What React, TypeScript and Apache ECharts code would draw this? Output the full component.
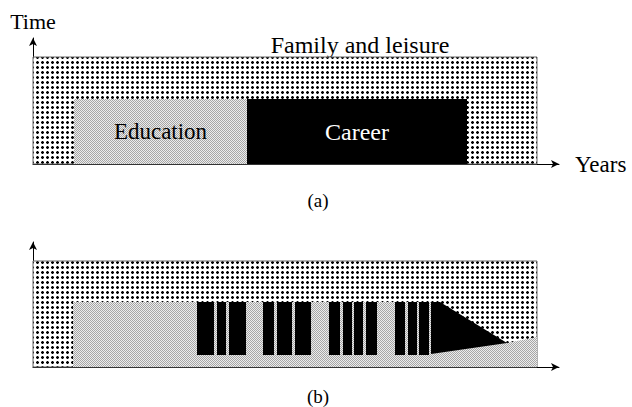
import React, { useEffect, useRef } from 'react';
import * as echarts from 'echarts';

const FONT = 'Liberation Serif';

// Panel (a): blocks as [xStart, xEnd, yBottom, yTop] (axis units)
const aFamily = [[0, 504, 0, 107]];
const aStageNames = ['Education', 'Career'];
const aStages = [
  [41, 214, 0, 65],
  [214, 434, 0, 65],
];

// Panel (b)
const bFamily = [[0, 504, 0, 106]];
const bEducation = [
  [40, 65], [399, 65], [474, 24], [504, 30], [504, 0], [40, 0],
];
const bCareerBars = [
  [164, 181, 12, 65], [184, 193, 12, 65], [196, 213, 12, 65],
  [230, 241, 12, 65], [244, 259, 12, 65], [262, 278, 12, 65],
  [296, 307, 12, 65], [310, 319, 12, 65], [321, 330, 12, 65], [333, 344, 12, 65],
  [362, 372, 12, 65], [375, 384, 12, 65], [386, 396, 12, 65],
];
const bCareerTaper = [
  [398, 65], [407, 65], [474, 24], [398, 13],
];

const panelLabels = ['(a)', '(b)'];

function makePattern(w: number, h: number, draw: (ctx: CanvasRenderingContext2D) => void) {
  const c = document.createElement('canvas');
  c.width = w;
  c.height = h;
  const ctx = c.getContext('2d')!;
  draw(ctx);
  return { image: c.toDataURL(), repeat: 'repeat', imageWidth: w, imageHeight: h } as any;
}

export default function App() {
  const ref = useRef<HTMLDivElement>(null);

  useEffect(() => {
    if (!ref.current) return;
    const chart = echarts.init(ref.current, null as any, { renderer: 'svg' });

    const dotted = makePattern(5, 5, (ctx) => {
      ctx.fillStyle = '#ffffff';
      ctx.fillRect(0, 0, 5, 5);
      ctx.fillStyle = '#9a9a9a';
      ctx.fillRect(1, 1, 1, 1);
      ctx.fillRect(3, 1, 1, 1);
      ctx.fillRect(1, 3, 1, 1);
      ctx.fillRect(3, 3, 1, 1);
      ctx.fillStyle = '#000000';
      ctx.fillRect(2, 1, 1, 3);
      ctx.fillRect(1, 2, 3, 1);
    });
    const stipple = makePattern(2, 2, (ctx) => {
      ctx.fillStyle = '#ececec';
      ctx.fillRect(0, 0, 2, 2);
      ctx.fillStyle = '#a6a6a6';
      ctx.fillRect(0, 0, 1, 1);
      ctx.fillRect(1, 1, 1, 1);
    });

    const axisLine = {
      show: true,
      onZero: false,
      symbol: ['none', 'arrow'],
      symbolSize: [6, 8],
      lineStyle: { color: '#000', width: 1 },
    };
    const baseAxis = {
      type: 'value' as const,
      axisLine,
      axisTick: { show: false },
      axisLabel: { show: false },
      splitLine: { show: false },
    };

    const labelSizes = [23, 24];

    const rectRender = (fill: any, stroke?: string, labels?: string[], labelColors?: string[]) =>
      (params: any, api: any) => {
        const tl = api.coord([api.value(0), api.value(3)]);
        const br = api.coord([api.value(1), api.value(2)]);
        const el: any = {
          type: 'rect',
          shape: { x: tl[0], y: tl[1], width: br[0] - tl[0], height: br[1] - tl[1] },
          style: { fill: Array.isArray(fill) ? fill[params.dataIndex] : fill, stroke: stroke || null, lineWidth: stroke ? 1 : 0 },
        };
        if (labels) {
          el.textContent = {
            style: {
              text: labels[params.dataIndex],
              fill: labelColors ? labelColors[params.dataIndex] : '#000',
              fontFamily: FONT,
              fontSize: labelSizes[params.dataIndex],
            },
          };
          el.textConfig = { position: 'inside' };
        }
        return el;
      };

    const polygonRender = (points: number[][], fill: any) => (params: any, api: any) => {
      if (params.dataIndex !== 0) return null;
      return {
        type: 'polygon',
        shape: { points: points.map((p) => api.coord(p)) },
        style: { fill },
      };
    };

    chart.setOption({
      animation: false,
      backgroundColor: '#ffffff',
      grid: [
        { left: 33, top: 38, width: 526, height: 126, outerBoundsMode: 'none' },
        { left: 33, top: 242, width: 526, height: 125, outerBoundsMode: 'none' },
      ],
      xAxis: [
        { ...baseAxis, gridIndex: 0, min: 0, max: 526, name: 'Years', nameLocation: 'end', nameGap: 16, nameTextStyle: { fontFamily: FONT, fontSize: 23, color: '#000' } },
        { ...baseAxis, gridIndex: 1, min: 0, max: 526 },
      ],
      yAxis: [
        { ...baseAxis, gridIndex: 0, min: 0, max: 126, name: 'Time', nameLocation: 'end', nameGap: 6, nameTextStyle: { fontFamily: FONT, fontSize: 22, color: '#000', align: 'center' } },
        { ...baseAxis, gridIndex: 1, min: 0, max: 125 },
      ],
      series: [
        { type: 'custom', xAxisIndex: 0, yAxisIndex: 0, data: aFamily, renderItem: rectRender(dotted, '#666') },
        {
          type: 'custom', xAxisIndex: 0, yAxisIndex: 0, data: aStages,
          renderItem: rectRender([stipple, '#000000'], undefined, aStageNames, ['#000000', '#ffffff']),
        },
        { type: 'custom', xAxisIndex: 1, yAxisIndex: 1, data: bFamily, renderItem: rectRender(dotted, '#666') },
        { type: 'custom', xAxisIndex: 1, yAxisIndex: 1, data: bEducation, renderItem: polygonRender(bEducation, stipple) },
        { type: 'custom', xAxisIndex: 1, yAxisIndex: 1, data: bCareerBars, renderItem: rectRender('#000000') },
        { type: 'custom', xAxisIndex: 1, yAxisIndex: 1, data: bCareerTaper, renderItem: polygonRender(bCareerTaper, '#000000') },
      ],
      graphic: [
        {
          type: 'text', x: 360, y: 45,
          style: { text: 'Family and leisure', fontFamily: FONT, fontSize: 24, fill: '#000', align: 'center', verticalAlign: 'middle' },
        },
        {
          type: 'text', x: 318, y: 200,
          style: { text: panelLabels[0], fontFamily: FONT, fontSize: 19, fill: '#000', align: 'center', verticalAlign: 'middle' },
        },
        {
          type: 'text', x: 318, y: 396,
          style: { text: panelLabels[1], fontFamily: FONT, fontSize: 19, fill: '#000', align: 'center', verticalAlign: 'middle' },
        },
      ],
    });

    return () => chart.dispose();
  }, []);

  return (
    <div
      ref={ref}
      style={{ position: 'absolute', left: 0, top: 0, width: 632, height: 407, background: '#fff' }}
    />
  );
}
